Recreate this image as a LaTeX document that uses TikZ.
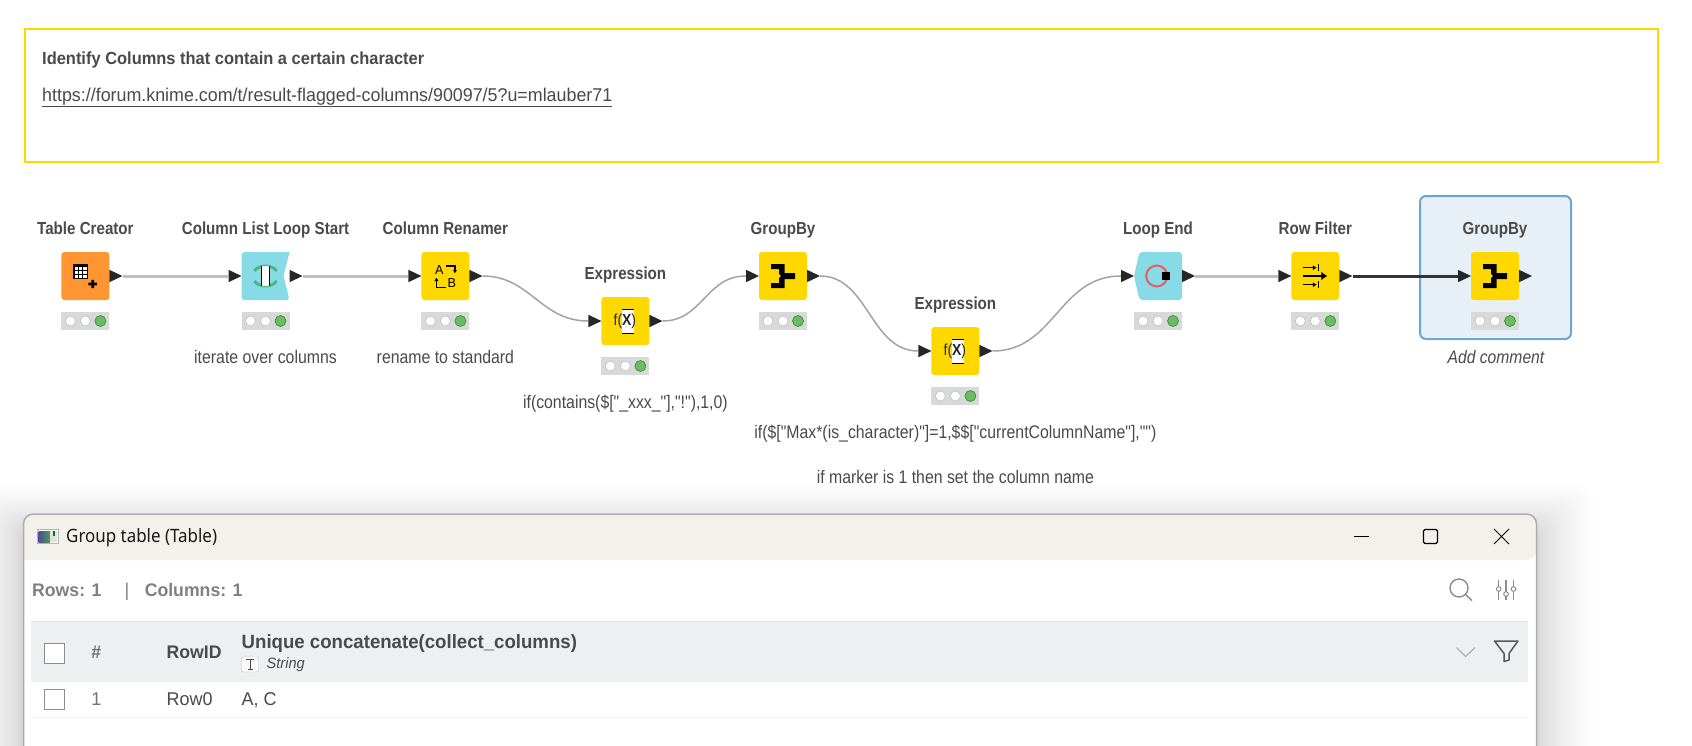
\documentclass[tikz,border=0pt]{standalone}
\usepackage{fontspec}
\usetikzlibrary{arrows.meta}
\setmainfont{Liberation Sans}
\newfontfamily\labfont[FakeStretch=0.87]{Liberation Sans}
\newfontfamily\notefont[FakeStretch=0.94]{Liberation Sans}
\newfontfamily\linkfont[FakeStretch=0.965]{Liberation Sans}
\newfontfamily\uifont[FakeStretch=0.97]{Liberation Sans}
\newfontfamily\winfont[FakeStretch=0.92]{Noto Sans}
\definecolor{kyellow}{HTML}{FFD800}
\definecolor{korange}{HTML}{FF9632}
\definecolor{kteal}{HTML}{87DBE6}
\definecolor{ktext}{HTML}{4A4A4A}
\definecolor{kgreen}{HTML}{69BC5F}
\definecolor{kgreenb}{HTML}{3F8A3F}
\definecolor{kstat}{HTML}{D8DADA}
\definecolor{ksel}{HTML}{E8F0F7}
\definecolor{kselb}{HTML}{72A5CE}
\definecolor{kbar}{HTML}{F3F1EC}
\definecolor{khead}{HTML}{EEEFF1}
\definecolor{kloop}{HTML}{4DB584}
\definecolor{kred}{HTML}{E35D62}
\tikzset{
 kbox/.style={rectangle,minimum width=48pt,minimum height=48pt,rounded corners=3pt,inner sep=0pt},
 kstatus/.style={rectangle,minimum width=48pt,minimum height=18pt,inner sep=0pt,fill=kstat},
 lampoff/.style={circle,minimum size=10pt,inner sep=0pt,fill=white,draw=black!25,line width=.6pt},
 lampon/.style={circle,minimum size=11pt,inner sep=0pt,fill=kgreen,draw=kgreenb,line width=.7pt},
 ktitle/.style={font=\labfont\fontsize{17.4}{18}\selectfont\bfseries,text=ktext,inner sep=0pt,anchor=base},
 kcomment/.style={font=\labfont\fontsize{18.2}{18}\selectfont,text=ktext,inner sep=0pt,anchor=base},
 port/.style={fill=black!85},
 flow/.style={draw=black!36,line width=1.5pt},
 flowstraight/.style={draw=black!25,line width=3pt},
 flowdark/.style={draw=black!80,line width=3pt},
 uitext/.style={font=\uifont\fontsize{18.5}{18}\selectfont,text=ktext,inner sep=0pt,anchor=base west},
 uibold/.style={font=\uifont\fontsize{18.2}{18}\selectfont\bfseries,text=ktext,inner sep=0pt,anchor=base west},
 chk/.style={rectangle,draw=black!45,line width=1pt,fill=white,minimum width=20pt,minimum height=20pt,inner sep=0pt},
}
\newcommand\knimenode[4]{%
 \node[kbox,fill=#4] (#1) at (#2,#3) {};
 \node[kstatus] (#1s) at (#2,#3+45) {};
 \node[lampoff] (#1a) at (#2-15,#3+45) {};
 \node[lampoff] (#1b) at (#2,#3+45) {};
 \node[lampon] (#1c) at (#2+15,#3+45) {};
}
\newcommand\outport[2]{\fill[port] (#1+24,#2-6.2) -- (#1+37,#2) -- (#1+24,#2+6.2) -- cycle;}
\newcommand\inport[2]{\fill[port] (#1-37,#2-6.2) -- (#1-24,#2) -- (#1-37,#2+6.2) -- cycle;}
\newcommand\groupicon[2]{\fill[black,shift={(#1,#2)}] (-12,-12) -- (1.5,-12) -- (1.5,-3) -- (12,-3) -- (12,3) -- (1.5,3) -- (1.5,12) -- (-12,12) -- (-12,7) -- (-4,7) -- (-4,2) -- (-2,0) -- (-4,-2) -- (-4,-7) -- (-12,-7) -- cycle;}
\newcommand\expricon[2]{\begin{scope}[shift={(#1,#2)}]
 \fill[white] (-3,-12) rectangle (9,12);
 \draw[black,line width=1pt] (-3,-12) -- (9,-12) (-3,12) -- (9,12);
 \node[inner sep=0pt,font=\labfont\fontsize{16}{16}\selectfont,text=black!85] at (-0.5,0) {f(\textbf{X})};
 \end{scope}}
\begin{document}
\begin{tikzpicture}[x=1pt,y=-1pt]
\useasboundingbox (0,0) rectangle (1692,745);
\fill[white] (0,0) rectangle (1692,745);
% annotation
\node[draw=kyellow,line width=2.5pt,minimum width=1633pt,minimum height=133pt,inner sep=0pt] (note) at (841.5,95.5) {};
\node[font=\notefont\fontsize{17.5}{18}\selectfont\bfseries,text=ktext,inner sep=0pt,anchor=base west] (notetitle) at (42,64) {Identify Columns that contain a certain character};
\node[font=\linkfont\fontsize{18.5}{18}\selectfont,text=ktext,inner sep=0pt,anchor=base west] (notelink) at (42,101) {\underline{https://forum.knime.com/t/result-flagged-columns/90097/5?u=mlauber71}};
% selection
\node[draw=kselb,fill=ksel,line width=2pt,rounded corners=6pt,minimum width=151pt,minimum height=143pt,inner sep=0pt] (sel) at (1495.5,267.5) {};
% nodes
\knimenode{tc}{85.4}{276}{korange}
\node[kbox] (cl) at (265.5,276) {};
\fill[kteal,rounded corners=3pt] (289.5,252) -- (241.5,252) -- (241.5,300) -- (289.5,300) [sharp corners] -- (283.5,276) -- cycle;
\node[kstatus] (cls) at (265.5,321) {};
\node[lampoff] (cla) at (250.5,321) {};
\node[lampoff] (clb) at (265.5,321) {};
\node[lampon] (clc) at (280.5,321) {};
\knimenode{cr}{445.4}{276}{kyellow}
\knimenode{ea}{625.4}{321}{kyellow}
\knimenode{ga}{783}{276}{kyellow}
\knimenode{eb}{955.4}{351}{kyellow}
\node[kbox] (le) at (1158,276) {};
\fill[kteal,rounded corners=3pt] (1134,276) -- (1139.5,252) -- (1182,252) -- (1182,300) -- (1139.5,300) -- cycle;
\node[kstatus] (les) at (1158,321) {};
\node[lampoff] (lea) at (1143,321) {};
\node[lampoff] (leb) at (1158,321) {};
\node[lampon] (lec) at (1173,321) {};
\knimenode{rf}{1315.3}{276}{kyellow}
\knimenode{gb}{1495}{276}{kyellow}
% connectors
\draw[flowstraight] ([xshift=13pt]tc.east) -- ([xshift=-13pt]cl.west);
\draw[flowstraight] ([xshift=13pt]cl.east) -- ([xshift=-13pt]cr.west);
\draw[flow] ([xshift=13pt]cr.east) .. controls +(48,0) and +(-48,0) .. ([xshift=-13pt]ea.west);
\draw[flow] ([xshift=13pt]ea.east) .. controls +(40,0) and +(-40,0) .. ([xshift=-13pt]ga.west);
\draw[flow] ([xshift=13pt]ga.east) .. controls +(48,0) and +(-48,0) .. ([xshift=-13pt]eb.west);
\draw[flow] ([xshift=13pt]eb.east) .. controls +(62,0) and +(-62,0) .. ([xshift=-13pt]le.west);
\draw[flowstraight] ([xshift=13pt]le.east) -- ([xshift=-13pt]rf.west);
\draw[flowdark] ([xshift=13pt]rf.east) -- ([xshift=-13pt]gb.west);
% ports
\outport{85.4}{276}
\inport{265.5}{276}\fill[port] (289.5,269.8) -- (302.5,276) -- (289.5,282.2) -- cycle;
\inport{445.4}{276}\outport{445.4}{276}
\inport{625.4}{321}\outport{625.4}{321}
\inport{783}{276}\outport{783}{276}
\inport{955.4}{351}\outport{955.4}{351}
\inport{1158}{276}\outport{1158}{276}
\inport{1315.3}{276}\outport{1315.3}{276}
\inport{1495}{276}\outport{1495}{276}
% icons
\begin{scope}[shift={(85.4,276)}]
 \fill[black] (-12,-12) rectangle (3,3);
 \foreach \a in {-10.4,-6.2,-2} \foreach \b in {-9.4,-5.2,-1} \fill[white] (\a,\b) rectangle (\a+3.2,\b+3.2);
 \fill[black] (3,6.7) rectangle (11.5,9.3) (5.9,3.8) rectangle (8.6,12.2);
\end{scope}
\begin{scope}[shift={(265.5,276)}]
 \draw[kloop,line width=3pt] (-11,-5) .. controls (-8,-11.5) and (8,-11.5) .. (11,-5);
 \draw[kloop,line width=3pt] (-11,5) .. controls (-8,11.5) and (8,11.5) .. (11,5);
 \fill[white] (-4,-10) rectangle (4,10);
 \draw[black,line width=1.3pt] (-4,-10) -- (-4,10) (4,-10) -- (4,10);
\end{scope}
\begin{scope}[shift={(445.4,276)}]
 \node[inner sep=0pt,font=\uifont\fontsize{13}{13}\selectfont] (ra) at (-6,-6) {A};
 \node[inner sep=0pt,font=\uifont\fontsize{13}{13}\selectfont] (rb) at (6.5,7.5) {B};
 \draw[black,line width=1.4pt,-{Latex[length=3.5pt,width=4.5pt]}] (1,-10) -- (9.5,-10) -- (9.5,-2.5);
 \draw[black,line width=1.4pt,-{Latex[length=3.5pt,width=4.5pt]}] (1,11.5) -- (-9,11.5) -- (-9,1.5);
\end{scope}
\expricon{625.4}{321}
\expricon{955.4}{351}
\groupicon{783}{276}
\groupicon{1495}{276}
\begin{scope}[shift={(1158,276)}]
 \draw[kred,line width=2pt] (-1.3,0) circle (10.5);
 \fill[black] (4,-4) rectangle (12,4);
\end{scope}
\begin{scope}[shift={(1315.3,276)}]
 \draw[black,line width=1.1pt,-{Latex[length=4pt,width=5pt]}] (-12,-8.3) -- (1.5,-8.3);
 \draw[black,line width=1.1pt] (3,-12) -- (3,-5);
 \draw[black,line width=1.1pt,-{Latex[length=4pt,width=5pt]}] (-12,8.7) -- (1.5,8.7);
 \draw[black,line width=1.1pt] (3,5.2) -- (3,12.2);
 \draw[black,line width=2.8pt,-{Latex[length=6pt,width=9pt]}] (-12,0) -- (12,0);
\end{scope}
% titles
\node[ktitle] (ttc) at (85.4,234) {Table Creator};
\node[ktitle] (tcl) at (265.5,234) {Column List Loop Start};
\node[ktitle] (tcr) at (445.4,234) {Column Renamer};
\node[ktitle] (tea) at (625.4,279) {Expression};
\node[ktitle] (tga) at (783,234) {GroupBy};
\node[ktitle] (teb) at (955.4,309) {Expression};
\node[ktitle] (tle) at (1158,234) {Loop End};
\node[ktitle] (trf) at (1315.3,234) {Row Filter};
\node[ktitle] (tgb) at (1495,234) {GroupBy};
% comments
\node[kcomment] (c1) at (265.5,363) {iterate over columns};
\node[kcomment] (c2) at (445.4,363) {rename to standard};
\node[kcomment] (c3) at (625.4,408) {if(contains(\$["\_xxx\_"],"!"),1,0)};
\node[kcomment] (c4) at (955.4,438) {if(\$["Max*(is\_character)"]=1,\$\$["currentColumnName"],"")};
\node[kcomment] (c5) at (955.4,483) {if marker is 1 then set the column name};
\node[kcomment,font=\labfont\fontsize{18}{18}\selectfont\itshape] (c6) at (1496,363) {Add comment};
% window shadow
\foreach \i in {1,...,24} {
 \pgfmathsetmacro\ex{\i*\i*0.1}
 \fill[black,opacity=.006,rounded corners=14pt] (23.5-\ex,514+14-\ex*.75) rectangle (1536.5+\ex,760);
}
% window
\fill[white,rounded corners=10pt] (23.5,514) rectangle (1536.5,770);
\fill[kbar,rounded corners=10pt] (23.5,560) -- (23.5,514) -- (1536.5,514) -- (1536.5,560) [sharp corners] -- cycle;
\draw[black!32,line width=1.5pt,rounded corners=10pt] (23.5,770) -- (23.5,514) -- (1536.5,514) -- (1536.5,770);
% title bar
\fill[black!30] (36.6,529) rectangle (58.5,544);
\fill[white] (37.6,530) rectangle (57.5,543);
\shade[left color=blue!45!black!70,right color=green!45!black!70] (38.5,531) rectangle (50,542);
\fill[black!12] (50,531) rectangle (57,542);
\fill[green!50!black] (53,531) rectangle (54.5,536);
\node[font=\winfont\fontsize{18.4}{18}\selectfont,text=black!90,inner sep=0pt,anchor=base west] (wt) at (66,542.5) {Group table (Table)};
\draw[black,line width=1pt] (1354,536) -- (1369,536);
\draw[black,line width=1.2pt,rounded corners=1.5pt] (1423.5,529.5) rectangle (1437.5,543.5);
\draw[black,line width=1pt] (1494,529) -- (1509,544) (1509,529) -- (1494,544);
% toolbar
\node[uibold,text=black!50] (rows) at (32,596) {Rows: 1};
\node[uitext,text=black!50] (sep) at (124.5,596) {|};
\node[uibold,text=black!50] (cols) at (144.6,596) {Columns: 1};
\draw[black!45,line width=1.4pt] (1459,588) circle (9) (1465.5,594.5) -- (1472,600.5);
\draw[black!45,line width=1.2pt] (1498.7,580) -- (1498.7,600) (1506,580) -- (1506,600) (1513.5,580) -- (1513.5,600);
\draw[black!45,line width=1pt,fill=white] (1498.7,589) circle (2.3) (1506,594) circle (2.3) (1513.5,589) circle (2.3);
% table
\fill[khead] (31,621) rectangle (1528,682);
\draw[black!11,line width=1pt] (31,621) -- (1528,621);
\draw[black!5,line width=1pt] (31,717) -- (1528,717);
\node[chk] (hc) at (54.3,653) {};
\node[chk] (rc) at (54.3,699.5) {};
\node[uibold,text=black!55,anchor=base] (hh) at (96.4,658) {\#};
\node[uitext,text=black!55,anchor=base] (r1) at (96.4,705) {1};
\node[uibold] (hr) at (166.5,658) {RowID};
\node[uitext] (r0) at (166.5,705) {Row0};
\node[uibold,font=\uifont\fontsize{19.2}{18}\selectfont\bfseries] (hu) at (241.5,648.5) {Unique concatenate(collect\_columns)};
\node[uitext] (rv) at (241.5,705) {A, C};
\node[draw=black!25,fill=black!2,rounded corners=1.5pt,minimum width=17pt,minimum height=15pt,inner sep=0pt] (ti) at (250,664.5) {};
\draw[black!70,line width=1pt] (246,659.5) -- (254,659.5) (250,659.5) -- (250,669.5) (247.5,669.5) -- (252.5,669.5);
\node[uitext,font=\uifont\fontsize{15}{14}\selectfont\itshape] (hs) at (266.5,668.5) {String};
\draw[black!30,line width=1.3pt] (1456.5,647.5) -- (1465.7,656.5) -- (1475,647.5);
\draw[black!65,line width=1.5pt,line join=round] (1494.5,641) -- (1518,641) -- (1509,653.5) -- (1509,660) -- (1504,661.5) -- (1504,653.5) -- cycle;
\end{tikzpicture}
\end{document}
